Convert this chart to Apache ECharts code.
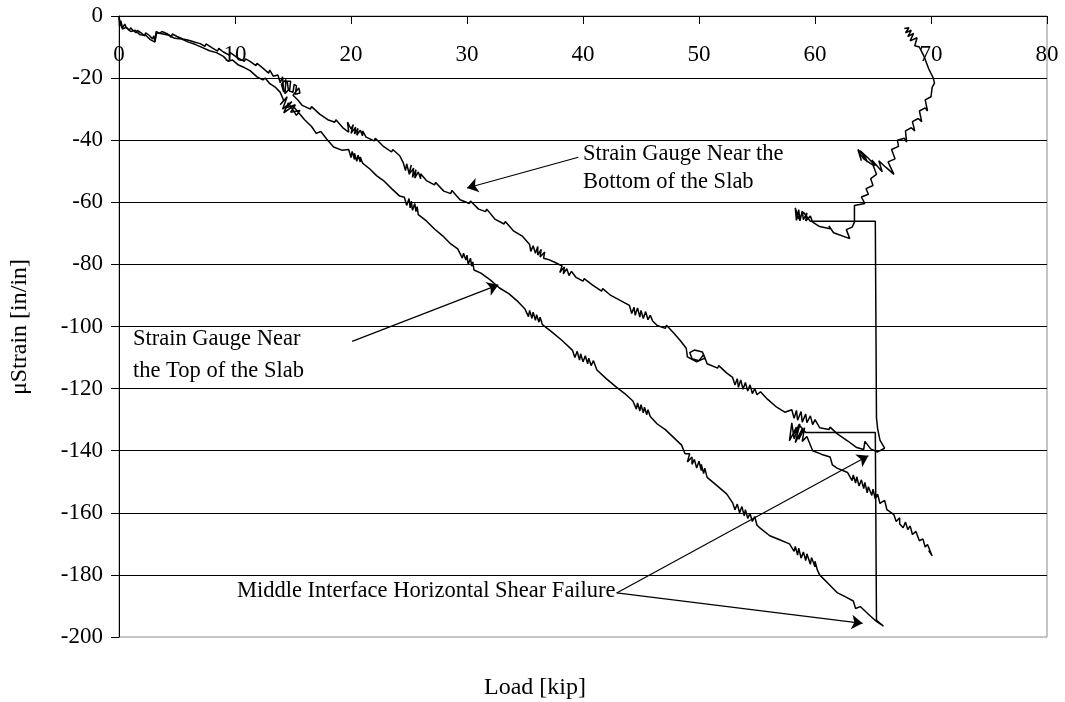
<!DOCTYPE html>
<html>
<head>
<meta charset="utf-8">
<script src="https://cdn.jsdelivr.net/npm/echarts@6/dist/echarts.min.js"></script>
<style>
html,body{margin:0;padding:0;background:#fff;}
#chart{width:1065px;height:702px;}
</style>
</head>
<body>
<div id="chart"></div>
<script>
// ---- Data, [load kip, microstrain] ----
// Strain gauge near the bottom of the slab (upper curve) with its post-failure branch
const bottomGauge = [
[0,0],[0.05,-3.2],[0.15,-1.5],[0.3,-3.8],[0.5,-2.6],[0.6,-3.6],[0.9,-4.6],[1.0,-3.8],[1.2,-4.6],[1.5,-5.4],[1.6,-4.6],[1.9,-5.4],[2.2,-6.4],[2.3,-5.4],[2.6,-6.2],[2.9,-7.4],[3.0,-6.4],[3.1,-8.0],[3.2,-5.0],[3.5,-5.6],[3.7,-5.0],[4.2,-5.8],[4.5,-6.8],[4.6,-5.8],[5.0,-6.6],[5.5,-7.4],[5.6,-6.8],[6.0,-7.8],[6.5,-8.4],[6.6,-7.8],[7.0,-8.9],[7.4,-9.8],[7.5,-9.0],[8.0,-10.2],[8.5,-11.3],[8.6,-10.4],[9.0,-11.6],[9.5,-12.6],[9.6,-11.8],[10.2,-13.4],[10.8,-14.6],[10.9,-13.8],[11.3,-14.6],[11.8,-16.0],[11.9,-15.2],[12.4,-16.8],[12.9,-18.4],[13.0,-17.4],[13.3,-19.4],[13.7,-19.0],
[13.9,-21.5],[14.1,-19.6],[14.2,-24.5],[14.0,-22.0],[14.4,-20.5],[14.3,-25.0],[14.6,-23.8],[14.5,-21.0],[14.8,-21.0],[14.7,-24.2],[15.0,-24.6],[15.1,-22.0],[15.3,-22.5],[15.2,-25.2],[15.6,-24.8],[15.5,-23.2],[15.0,-25.5],[15.4,-27.0],[15.8,-28.8],
[16.5,-30.0],[16.6,-29.2],[17.3,-31.6],[18.0,-33.4],[18.6,-34.2],[18.7,-33.4],[19.3,-36.0],[19.8,-37.4],
[19.7,-34.2],[20.0,-36.4],[20.2,-35.0],[20.0,-37.8],[20.4,-35.8],[20.3,-38.0],[20.6,-36.2],[20.5,-38.4],[20.8,-36.8],[21.0,-38.6],[21.0,-37.0],[21.3,-39.0],
[22.0,-40.2],[22.1,-39.4],[22.8,-42.0],[23.5,-43.8],[23.6,-43.0],[24.2,-45.0],
[24.5,-47.2],[24.7,-49.8],[24.8,-47.6],[25.0,-50.6],[25.2,-48.0],[25.0,-51.0],[25.4,-49.0],[25.3,-52.0],[25.6,-49.5],[25.5,-52.2],[25.8,-50.2],[26.0,-52.4],[26.0,-50.8],
[26.5,-53.0],[27.2,-54.4],[27.3,-53.6],[28.0,-56.4],[28.6,-57.2],[28.7,-56.2],[29.4,-59.2],[30.2,-60.4],[30.3,-59.6],[31.0,-62.2],[31.6,-63.0],[31.7,-62.2],[32.4,-65.4],[33.2,-67.0],[33.3,-66.2],[34.0,-69.2],[34.8,-71.0],
[35.4,-73.6],[35.5,-75.8],[35.7,-74.0],[35.9,-76.4],[36.1,-74.2],[36.1,-77.0],[36.4,-75.2],[36.3,-77.6],[36.7,-76.0],[36.6,-78.0],[37.0,-78.4],
[37.6,-79.4],
[38.2,-80.5],[38.0,-82.6],[38.4,-80.8],[38.3,-83.0],[38.6,-81.4],[38.8,-83.6],[39.0,-82.2],
[39.4,-84.2],[40.0,-85.4],[40.1,-84.6],[40.8,-86.6],[41.6,-88.6],[41.7,-87.8],[42.4,-90.0],[43.2,-91.6],
[44.0,-93.2],[44.2,-95.8],[44.4,-93.8],[44.5,-96.4],[44.7,-94.0],[44.9,-97.0],[45.0,-94.8],[45.2,-97.4],[45.4,-95.2],[45.6,-97.8],[45.8,-96.4],[46.0,-98.2],
[46.4,-99.7],[47.1,-100.6],[47.2,-99.6],[47.8,-102.0],[48.4,-104.6],[48.9,-107.0],
[49.0,-109.8],[49.8,-111.4],[50.5,-110.2],[50.3,-108.2],[49.6,-107.6],[49.2,-108.4],[49.4,-110.4],[50.0,-111.0],[50.4,-109.0],[50.7,-112.0],
[51.6,-113.4],[51.7,-112.6],[52.4,-115.0],
[52.9,-116.4],[53.1,-118.8],[53.3,-116.8],[53.4,-119.6],[53.6,-117.2],[53.8,-120.2],[54.0,-118.0],[54.2,-120.8],[54.4,-118.8],[54.6,-121.6],[54.8,-120.0],[55.0,-122.0],[55.3,-121.0],
[55.9,-123.4],[56.7,-126.0],[57.4,-127.6],
[58.0,-126.8],[58.2,-129.6],[58.4,-127.0],[58.5,-130.2],[58.8,-127.4],[58.9,-130.8],[59.2,-128.2],[59.3,-131.0],[59.6,-128.8],[59.8,-131.6],[60.0,-130.0],[60.4,-132.6],
[61.2,-133.2],[61.3,-132.4],[61.9,-134.5],[62.8,-136.8],[63.6,-139.0],[64.2,-139.6],[64.3,-137.0],[64.8,-139.4],[65.4,-140.4],[66.0,-139.2],[65.6,-136.6],[65.4,-133.0],[65.3,-129.4],[65.2,-66.1],[59.6,-66.1],
[59.0,-63.2],[58.6,-65.4],[58.3,-61.8],[58.4,-65.8],[58.6,-62.4],[58.7,-66.0],[58.9,-62.8],[59.0,-65.6],[59.3,-63.4],[59.2,-66.0],[59.6,-64.4],[59.8,-66.4],
[60.4,-67.8],[61.3,-68.5],[61.2,-67.6],[61.6,-69.8],[63.0,-71.7],[62.7,-68.8],[63.2,-68.0],[63.4,-66.4],[63.4,-61.0],[64.3,-60.4],[64.0,-58.3],[64.6,-57.4],[64.4,-55.6],[65.0,-54.6],[64.8,-52.4],[65.3,-51.0],
[65.0,-48.0],[64.2,-46.0],[63.8,-44.0],[64.0,-46.6],[63.7,-43.0],[64.3,-45.2],[64.5,-47.0],[63.9,-43.4],[64.6,-45.8],[65.2,-48.2],[64.9,-46.4],[65.8,-50.2],[65.5,-46.6],[66.0,-48.4],[66.2,-49.0],[66.8,-51.0],[66.3,-47.0],[66.9,-46.0],[66.6,-43.0],
[67.2,-42.0],[67.1,-40.0],[67.7,-39.4],[67.9,-40.6],[67.8,-37.0],[68.3,-36.0],[68.6,-37.0],[68.4,-34.0],[68.9,-33.0],[69.2,-34.0],[69.0,-30.6],[69.5,-29.6],[69.7,-30.6],[69.5,-27.0],[70.0,-26.0],[70.1,-23.0],[70.3,-21.6],[70.2,-20.0],[69.8,-17.0],[69.4,-13.0],[69.0,-10.0],
[68.6,-9.6],[68.8,-7.0],[68.2,-8.0],[68.5,-5.6],[68.0,-6.6],[68.3,-4.6],[67.8,-5.4],[68.1,-3.8],[67.7,-4.0]
];

// Strain gauge near the top of the slab (lower curve) with its post-failure branch
const topGauge = [
[0,0],[0.1,-2.4],[0.3,-4.2],[0.6,-3.6],[1.0,-5.0],[1.4,-4.6],[1.8,-6.0],[2.3,-6.2],[2.7,-7.6],[3.1,-8.4],[3.25,-5.4],[3.8,-5.8],[4.3,-6.2],[4.8,-7.2],[5.4,-7.4],[6.0,-8.4],[6.6,-9.2],[7.2,-10.2],[7.8,-11.2],[8.4,-11.8],[9.0,-13.0],[9.4,-14.6],[9.8,-14.2],[10.3,-15.8],[10.8,-16.6],[11.3,-17.6],[11.9,-19.6],[12.4,-20.6],[12.6,-20.0],[13.0,-21.8],[13.5,-23.0],[13.9,-24.6],
[14.2,-27.2],[13.9,-28.6],[14.5,-26.0],[14.1,-30.0],[14.9,-27.6],[14.4,-29.6],[15.2,-28.6],[14.8,-31.0],[15.6,-30.4],[15.3,-32.0],[14.6,-28.0],[14.2,-31.2],[15.0,-29.0],
[16.0,-33.4],[16.6,-35.6],[17.0,-37.8],[17.4,-37.2],[17.9,-39.6],[18.5,-42.2],[19.2,-43.2],
[19.8,-43.0],[20.0,-45.6],[20.1,-43.6],[20.3,-46.2],[20.3,-44.2],[20.5,-46.8],[20.6,-44.8],[20.8,-47.0],[20.8,-45.4],[21.0,-47.4],
[21.6,-49.2],[22.2,-51.4],[22.8,-53.0],[23.5,-55.6],[24.2,-58.0],
[24.6,-58.4],[24.8,-61.0],[25.0,-58.8],[25.1,-61.8],[25.2,-59.6],[25.3,-62.6],[25.5,-60.4],[25.6,-63.0],[25.7,-61.4],[25.8,-64.0],
[26.5,-66.0],[27.2,-68.6],[27.9,-70.8],[28.6,-73.4],[29.2,-75.0],
[29.6,-78.0],[29.7,-76.4],[29.9,-78.6],[30.0,-77.0],[30.1,-80.0],[30.3,-78.0],[30.4,-80.6],[30.5,-79.2],[30.6,-81.8],
[31.2,-82.8],[32.0,-85.0],[32.8,-87.6],[33.6,-89.4],[34.4,-92.0],[35.0,-94.4],
[35.3,-96.8],[35.4,-94.8],[35.6,-97.4],[35.7,-95.4],[35.9,-98.0],[36.0,-96.2],[36.2,-98.6],[36.3,-97.0],[36.5,-99.4],
[37.2,-101.4],[38.2,-104.5],
[39.1,-107.7],[39.3,-110.0],[39.5,-108.0],[39.7,-110.8],[39.8,-108.8],[40.0,-111.4],[40.2,-109.4],[40.4,-112.0],[40.5,-110.2],[40.7,-112.6],[40.9,-111.0],[41.2,-114.0],
[42.0,-116.8],[42.9,-119.6],[43.6,-121.6],[44.3,-124.0],
[44.6,-126.6],[44.7,-124.6],[44.9,-127.2],[45.0,-125.2],[45.2,-127.8],[45.3,-126.0],[45.5,-128.4],[45.6,-126.8],[45.8,-129.0],
[46.4,-131.4],[47.1,-133.2],[47.8,-135.7],[48.5,-138.2],[48.8,-141.0],
[49.2,-141.0],[49.0,-143.6],[49.4,-142.0],[49.4,-144.4],[49.6,-142.8],[49.8,-145.6],[50.0,-143.4],[50.2,-146.4],[50.2,-144.4],[50.4,-147.4],[50.5,-145.6],[50.7,-148.6],
[51.6,-151.4],[52.4,-154.0],
[52.9,-156.8],[53.1,-159.0],[53.3,-157.2],[53.5,-160.0],[53.7,-158.0],[53.9,-161.0],[54.0,-159.0],[54.2,-161.8],[54.4,-160.2],[54.6,-162.8],[54.8,-161.2],[55.0,-164.0],[55.3,-165.0],
[56.1,-167.4],[56.9,-168.6],[57.8,-170.0],
[58.2,-172.4],[58.3,-170.8],[58.5,-173.6],[58.6,-171.4],[58.8,-174.6],[59.0,-172.6],[59.2,-175.4],[59.3,-173.2],[59.6,-176.6],[59.7,-174.4],[60.0,-177.4],[60.0,-175.6],[60.2,-178.4],[60.4,-180.0],
[61.2,-183.0],[61.9,-185.7],[62.6,-187.0],[63.3,-188.4],[63.5,-190.8],[63.9,-190.2],[64.7,-193.0],[65.3,-195.0],[65.9,-196.5],[65.3,-194.6],[65.2,-134.1],[59.2,-134.1],
[58.6,-131.6],[58.2,-136.2],[58.0,-131.0],[57.8,-136.8],[58.4,-132.4],[58.1,-135.0],[58.7,-131.4],[58.3,-137.4],[58.9,-133.0],[58.6,-136.4],[59.1,-132.6],[58.9,-137.0],[59.3,-135.4],
[59.8,-140.0],[60.6,-141.2],[61.3,-142.0],[61.5,-144.6],[61.9,-145.6],[62.8,-147.0],
[63.2,-149.6],[63.3,-147.8],[63.5,-150.4],[63.6,-148.4],[63.8,-151.4],[64.0,-149.4],[64.2,-152.2],[64.3,-150.2],[64.5,-153.6],[64.6,-151.6],[64.9,-154.4],[65.0,-152.4],[65.2,-155.6],[65.4,-154.0],[65.6,-157.0],
[66.0,-156.0],[66.2,-159.0],
[66.8,-160.6],[67.0,-162.8],[67.3,-161.6],[67.3,-163.6],[67.6,-164.8],[67.8,-163.0],[68.0,-165.4],[68.2,-164.2],[68.4,-167.0],[68.7,-166.0],[69.0,-169.0],[69.3,-168.4],[69.5,-171.0],[69.7,-170.2],
[70.1,-173.9],[69.8,-172.2]
];

const xTicks = [0,10,20,30,40,50,60,70,80];
const yTicks = [0,-20,-40,-60,-80,-100,-120,-140,-160,-180,-200];

const xTitle = 'Load [kip]';
const yTitle = 'μStrain [in/in]';
const noteBottom = ['Strain Gauge Near the', 'Bottom of the Slab'];
const noteTop = ['Strain Gauge Near', 'the Top of the Slab'];
const noteFail = 'Middle Interface Horizontal Shear Failure';

// ---- Chart ----
const FONT = '"Liberation Serif","Times New Roman",serif';
const chart = echarts.init(document.getElementById('chart'), null, {renderer: 'canvas'});

const arrowStyle = {color: '#000', width: 1.2, type: 'solid'};
function arrow(from, to) { return [{coord: from}, {coord: to}]; }

chart.setOption({
  animation: false,
  backgroundColor: '#fff',
  grid: {left: 119, right: 18, top: 16, bottom: 65, show: true, borderColor: '#8c8c8c', borderWidth: 1, backgroundColor: 'transparent'},
  xAxis: {
    type: 'value', position: 'top', min: xTicks[0], max: xTicks[xTicks.length - 1], interval: 10,
    axisLine: {show: true, onZero: false, lineStyle: {color: '#000', width: 1}},
    axisTick: {show: true, inside: true, length: 8, lineStyle: {color: '#000'}},
    axisLabel: {inside: true, margin: 27, color: '#000', fontSize: 23, fontFamily: FONT, showMinLabel: true, showMaxLabel: true},
    splitLine: {show: false}
  },
  yAxis: {
    type: 'value', min: yTicks[yTicks.length - 1], max: yTicks[0], interval: 20,
    axisLine: {show: true, onZero: false, lineStyle: {color: '#000', width: 1}},
    axisTick: {show: true, inside: false, length: 8, lineStyle: {color: '#000'}},
    axisLabel: {margin: 16, color: '#000', fontSize: 23, fontFamily: FONT},
    splitLine: {show: true, showMinLine: false, showMaxLine: false, lineStyle: {color: '#000', width: 1}}
  },
  series: [
    {
      name: 'Bottom gauge', type: 'line', data: bottomGauge, showSymbol: false, symbol: 'none',
      lineStyle: {color: '#000', width: 1.5}, silent: true,
      markLine: {
        silent: true, symbol: ['none', 'arrow'], symbolSize: 11,
        lineStyle: arrowStyle, label: {show: false},
        data: [
          arrow([39.6, -45.5], [30.0, -55.4]),
          arrow([20.1, -104.8], [32.7, -86.6]),
          arrow([42.9, -185.8], [64.6, -141.6]),
          arrow([42.9, -185.8], [64.1, -195.6])
        ]
      }
    },
    {
      name: 'Top gauge', type: 'line', data: topGauge, showSymbol: false, symbol: 'none',
      lineStyle: {color: '#000', width: 1.5}, silent: true
    }
  ],
  graphic: [
    {type: 'text', left: 583, top: 143, style: {text: noteBottom[0], fill: '#000', font: '22.5px ' + FONT}},
    {type: 'text', left: 583, top: 171, style: {text: noteBottom[1], fill: '#000', font: '22.5px ' + FONT}},
    {type: 'text', left: 133, top: 328, style: {text: noteTop[0], fill: '#000', font: '22.5px ' + FONT}},
    {type: 'text', left: 133, top: 360, style: {text: noteTop[1], fill: '#000', font: '22.5px ' + FONT}},
    {type: 'text', left: 237, top: 580, style: {text: noteFail, fill: '#000', font: '22.5px ' + FONT}},
    {type: 'text', x: 535, y: 688, style: {text: xTitle, fill: '#000', font: '24px ' + FONT, textAlign: 'center', textVerticalAlign: 'middle'}},
    {type: 'text', x: 20, y: 327, rotation: Math.PI / 2, style: {text: yTitle, fill: '#000', font: '24px ' + FONT, textAlign: 'center', textVerticalAlign: 'middle'}}
  ]
});
</script>
</body>
</html>
